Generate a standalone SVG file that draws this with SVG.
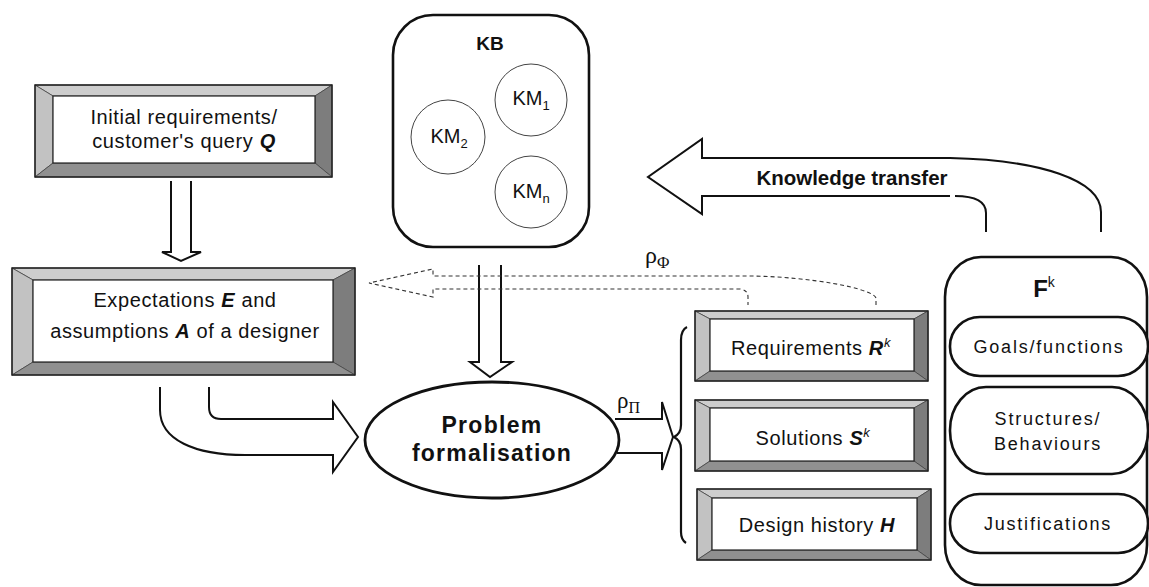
<svg xmlns="http://www.w3.org/2000/svg" width="1149" height="587" viewBox="0 0 1149 587">
<style>
  .bt{fill:#cdcdcd;stroke:#444;stroke-width:0.8}
  .bl{fill:#c2c2c2;stroke:#444;stroke-width:0.8}
  .br{fill:#7d7d7d;stroke:#444;stroke-width:0.8}
  .bb{fill:#909090;stroke:#444;stroke-width:0.8}
  .in{fill:#fff;stroke:#222;stroke-width:1.2}
  .out{fill:none;stroke:#222;stroke-width:1.5}
  .t{font-family:"Liberation Sans",Arial,sans-serif;fill:#111}
  .bx{font-size:20px;letter-spacing:0.6px}
  .bi{font-weight:bold;font-style:italic}
  .sup{font-size:13px;font-style:italic}
  .arr{fill:none;stroke:#111;stroke-width:2;stroke-linejoin:miter}
  .dot{fill:none;stroke:#333;stroke-width:1.1;stroke-dasharray:4 3}
  .thick{fill:#fff;stroke:#111;stroke-width:2.6}
  .circ{fill:#fff;stroke:#444;stroke-width:1}
  .ser{font-family:"Liberation Serif","Times New Roman",serif;fill:#111}
  .pill{font-size:18px;letter-spacing:1.8px}
</style>
<rect width="1149" height="587" fill="#fff"/>

<g id="connectors">
  <!-- Q to E/A -->
  <path class="arr" d="M171,181 L171,252 L162,252 L181,261 L201,252 L191,252 L191,181"/>
  <!-- KB to Problem formalisation -->
  <path class="arr" d="M479,265 L479,362 L470,362 L490,377 L512,362 L501,362 L501,265"/>
  <!-- E/A to Problem formalisation (curved block arrow) -->
  <path class="arr" d="M160,387 L160,410 C160,440 195,455 245,455 L333,455 L333,472 L358,437 L333,402 L333,419 L221,419 Q209,419 209,407 L209,387"/>
  <!-- rho Pi arrow -->
  <path class="arr" d="M615,419 L662,419 L662,402 L673,437 L662,470 L662,453 L617,453"/>
  <!-- rho Phi dotted arrow -->
  <path class="dot" d="M876,305 L876,298 C872,288 810,277 752,276 L433,276 L433,269 L369,283 L433,297 L433,289 L740,289 Q748,290 748,297 L748,305"/>
  <!-- Knowledge transfer arrow -->
  <path class="arr" d="M1101,232 L1101,212 C1101,180 1040,160 950,158 L702,158 L702,139 L648,177 L702,214 L702,196 L950,196"/>
  <path class="arr" d="M955,196 Q986,196 986,213 L986,232"/>
  <!-- brace -->
  <path fill="none" stroke="#111" stroke-width="2.2" d="M687,327 C683,329 681,333 681,340 L681,425 C681,432 678,435 674,437 C678,439 681,442 681,449 L681,532 C681,538 683,541 686,543"/>
  <text class="t" x="852" y="185" font-size="20" font-weight="bold" text-anchor="middle" textLength="191" lengthAdjust="spacingAndGlyphs">Knowledge transfer</text>
  <text class="ser" x="645" y="263" font-size="24">ρ<tspan font-size="17" dy="5">Φ</tspan></text>
  <text class="ser" x="617" y="408" font-size="23">ρ<tspan font-size="16" dy="5">Π</tspan></text>
</g>

<g id="node-query">
  <polygon class="bt" points="35,85 332,85 315,96 53,96"/>
  <polygon class="bl" points="35,85 53,96 53,163 35,177"/>
  <polygon class="br" points="332,85 332,177 315,163 315,96"/>
  <polygon class="bb" points="35,177 53,163 315,163 332,177"/>
  <rect class="in" x="53" y="96" width="262" height="67"/>
  <rect class="out" x="35" y="85" width="297" height="92"/>
  <text class="t bx" x="184" y="124" text-anchor="middle">Initial requirements/</text>
  <text class="t bx" x="184" y="148" text-anchor="middle">customer's query <tspan class="bi">Q</tspan></text>
</g>

<g id="node-expectations">
  <polygon class="bt" points="12,268 355,268 333,280 33,280"/>
  <polygon class="bl" points="12,268 33,280 33,362 12,375"/>
  <polygon class="br" points="355,268 355,375 333,362 333,280"/>
  <polygon class="bb" points="12,375 33,362 333,362 355,375"/>
  <rect class="in" x="33" y="280" width="300" height="82"/>
  <rect class="out" x="12" y="268" width="343" height="107"/>
  <text class="t bx" x="185" y="307" text-anchor="middle">Expectations <tspan class="bi">E</tspan> and</text>
  <text class="t bx" x="185" y="338" text-anchor="middle">assumptions <tspan class="bi">A</tspan> of a designer</text>
</g>

<g id="node-kb">
  <rect class="thick" x="393" y="15" width="196" height="232" rx="40" ry="40"/>
  <text class="t" x="490" y="50" font-size="19" font-weight="bold" text-anchor="middle">KB</text>
  <circle class="circ" cx="531" cy="100" r="36"/>
  <text class="t" x="531" y="105" font-size="20" text-anchor="middle">KM<tspan font-size="13" dy="5">1</tspan></text>
  <circle class="circ" cx="448" cy="137" r="37"/>
  <text class="t" x="449" y="143" font-size="20" text-anchor="middle">KM<tspan font-size="13" dy="5">2</tspan></text>
  <circle class="circ" cx="531" cy="192" r="36"/>
  <text class="t" x="531" y="198" font-size="20" text-anchor="middle">KM<tspan font-size="13" dy="5">n</tspan></text>
</g>

<g id="node-problem">
  <ellipse cx="492" cy="440" rx="127" ry="58" fill="#fff" stroke="#111" stroke-width="2.8"/>
  <text class="t" x="492" y="433" font-size="23" font-weight="bold" letter-spacing="1.3" text-anchor="middle">Problem</text>
  <text class="t" x="492" y="461" font-size="23" font-weight="bold" letter-spacing="1.2" text-anchor="middle">formalisation</text>
</g>

<g id="node-requirements">
  <polygon class="bt" points="695,311 928,311 914,319 710,319"/>
  <polygon class="bl" points="695,311 710,319 710,371 695,381"/>
  <polygon class="br" points="928,311 928,381 914,371 914,319"/>
  <polygon class="bb" points="695,381 710,371 914,371 928,381"/>
  <rect class="in" x="710" y="319" width="204" height="52"/>
  <rect class="out" x="695" y="311" width="233" height="70"/>
  <text class="t bx" x="811" y="355" text-anchor="middle">Requirements <tspan class="bi">R</tspan><tspan class="sup" dy="-8">k</tspan></text>
</g>

<g id="node-solutions">
  <polygon class="bt" points="695,400 928,400 914,408 710,408"/>
  <polygon class="bl" points="695,400 710,408 710,461 695,471"/>
  <polygon class="br" points="928,400 928,471 914,461 914,408"/>
  <polygon class="bb" points="695,471 710,461 914,461 928,471"/>
  <rect class="in" x="710" y="408" width="204" height="53"/>
  <rect class="out" x="695" y="400" width="233" height="71"/>
  <text class="t bx" x="813" y="445" text-anchor="middle">Solutions <tspan class="bi">S</tspan><tspan class="sup" dy="-8">k</tspan></text>
</g>

<g id="node-history">
  <polygon class="bt" points="697,489 931,489 917,498 712,498"/>
  <polygon class="bl" points="697,489 712,498 712,550 697,560"/>
  <polygon class="br" points="931,489 931,560 917,550 917,498"/>
  <polygon class="bb" points="697,560 712,550 917,550 931,560"/>
  <rect class="in" x="712" y="498" width="205" height="52"/>
  <rect class="out" x="697" y="489" width="234" height="71"/>
  <text class="t bx" x="817" y="532" text-anchor="middle">Design history <tspan class="bi">H</tspan></text>
</g>

<g id="node-fk">
  <rect class="thick" x="945" y="257" width="202" height="328" rx="36" ry="40"/>
  <text class="t" x="1044" y="297" font-size="24" font-weight="bold" text-anchor="middle">F<tspan font-size="14" font-weight="normal" dy="-10">k</tspan></text>
  <g id="node-goals">
    <rect class="thick" x="950" y="317" width="198" height="59" rx="30" ry="29"/>
    <text class="t pill" x="1049" y="353" text-anchor="middle">Goals/functions</text>
  </g>
  <g id="node-structures">
    <rect class="thick" x="950" y="387" width="198" height="87" rx="36" ry="43"/>
    <text class="t pill" x="1048" y="425" text-anchor="middle">Structures/</text>
    <text class="t pill" x="1048" y="450" text-anchor="middle">Behaviours</text>
  </g>
  <g id="node-justifications">
    <rect class="thick" x="950" y="494" width="198" height="59" rx="30" ry="29"/>
    <text class="t pill" x="1048" y="530" text-anchor="middle">Justifications</text>
  </g>
</g>
</svg>
